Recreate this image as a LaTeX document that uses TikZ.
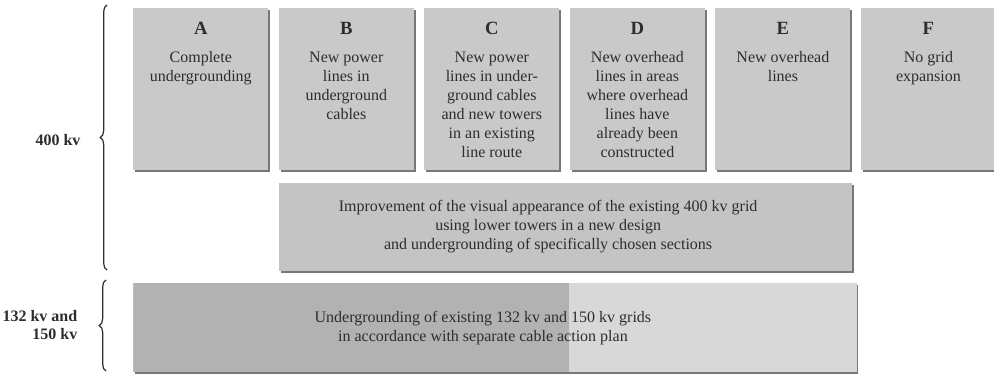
\documentclass[tikz,border=0pt]{standalone}
\usepackage{fontspec}
\setmainfont{Liberation Serif}
\usepackage{tikz}
\usetikzlibrary{positioning,shadows,decorations.pathreplacing}
\usepackage{xcolor}
\definecolor{boxgray}{RGB}{201,201,201}
\definecolor{midgray}{RGB}{196,196,196}
\definecolor{cabledark}{RGB}{178,178,178}
\definecolor{cablelight}{RGB}{216,216,216}
\definecolor{edgegray}{RGB}{120,120,120}
\definecolor{inkgray}{RGB}{45,45,45}

\begin{document}
\begin{tikzpicture}[
  x=0.75pt, y=-0.75pt,
  every node/.style={text=inkgray},
  option/.style={rectangle, fill=boxgray, anchor=north west,
                 minimum width=101.25pt, minimum height=121.5pt,
                 inner sep=0pt,
                 drop shadow={shadow xshift=1.4pt, shadow yshift=-1.4pt,
                              fill=edgegray, opacity=1}},
  head/.style={font=\fontsize{14}{16}\selectfont\bfseries},
  desc/.style={font=\fontsize{12}{14.2}\selectfont, align=center, anchor=north},
  volt/.style={font=\fontsize{12}{14.2}\selectfont\bfseries, align=right},
  grp/.style={decorate, decoration={brace, amplitude=5pt}, draw=inkgray, line width=0.9pt},
  node distance=7.5pt
]
  \useasboundingbox (0,0) rectangle (994,374);

  %% Options A--F
  \node[option] (A) at (133,8) {};
  \node[option, right=of A.north east, anchor=north west] (B) {};
  \node[option, right=of B.north east, anchor=north west] (C) {};
  \node[option, right=of C.north east, anchor=north west] (D) {};
  \node[option, right=of D.north east, anchor=north west] (E) {};
  \node[option, right=of E.north east, anchor=north west] (F) {};

  \node[head, below=7pt of A.north] (hA) {A};
  \node[head, below=7pt of B.north] (hB) {B};
  \node[head, below=7pt of C.north] (hC) {C};
  \node[head, below=7pt of D.north] (hD) {D};
  \node[head, below=7pt of E.north] (hE) {E};
  \node[head, below=7pt of F.north] (hF) {F};

  \node[desc, below=6pt of hA] (tA) {Complete\\undergrounding};
  \node[desc, below=6pt of hB] (tB) {New power\\lines in\\underground\\cables};
  \node[desc, below=6pt of hC] (tC)
    {New power\\lines in under-\\ground cables\\and new towers\\in an existing\\line route};
  \node[desc, below=6pt of hD] (tD)
    {New overhead\\lines in areas\\where overhead\\lines have\\already been\\constructed};
  \node[desc, below=6pt of hE] (tE) {New overhead\\lines};
  \node[desc, below=6pt of hF] (tF) {No grid\\expansion};

  %% Visual improvement of the 400 kv grid
  \node[rectangle, fill=midgray, inner sep=0pt, anchor=north west,
        minimum width=430pt, minimum height=66pt,
        drop shadow={shadow xshift=1.4pt, shadow yshift=-1.4pt,
                     fill=edgegray, opacity=1},
        below right=9pt and 0pt of B.south west] (visual) {};
  \node[desc, anchor=center] (tvisual) at ([xshift=-13pt]visual.center)
    {Improvement of the visual appearance of the existing 400 kv grid\\
     using lower towers in a new design\\
     and undergrounding of specifically chosen sections};

  %% Cable action plan
  \node[rectangle, fill=cablelight, inner sep=0pt, anchor=north west,
        minimum width=542.5pt, minimum height=66.75pt,
        drop shadow={shadow xshift=1.4pt, shadow yshift=-1.4pt,
                     fill=edgegray, opacity=1},
        path picture={\fill[cabledark] (path picture bounding box.north west)
                      rectangle ([xshift=327pt]path picture bounding box.south west);},
        below right=9pt and 0pt of A.south west |- visual.south] (cable) {};
  \node[desc, anchor=center] (tcable) at ([xshift=-9pt]cable.center)
    {Undergrounding of existing 132 kv and 150 kv grids\\
     in accordance with separate cable action plan};

  %% Voltage levels
  \coordinate (g1top) at (107,5);
  \coordinate (g1bot) at (107,270);
  \coordinate (g2top) at (106,280);
  \coordinate (g2bot) at (106,371);
  \draw[grp] (g1bot) -- (g1top);
  \draw[grp] (g2bot) -- (g2top);

  \node[volt] (v400) at (58,140) {400 kv};
  \node[volt, anchor=east] (v132) at (82,325) {132 kv and\\150 kv};
\end{tikzpicture}
\end{document}
